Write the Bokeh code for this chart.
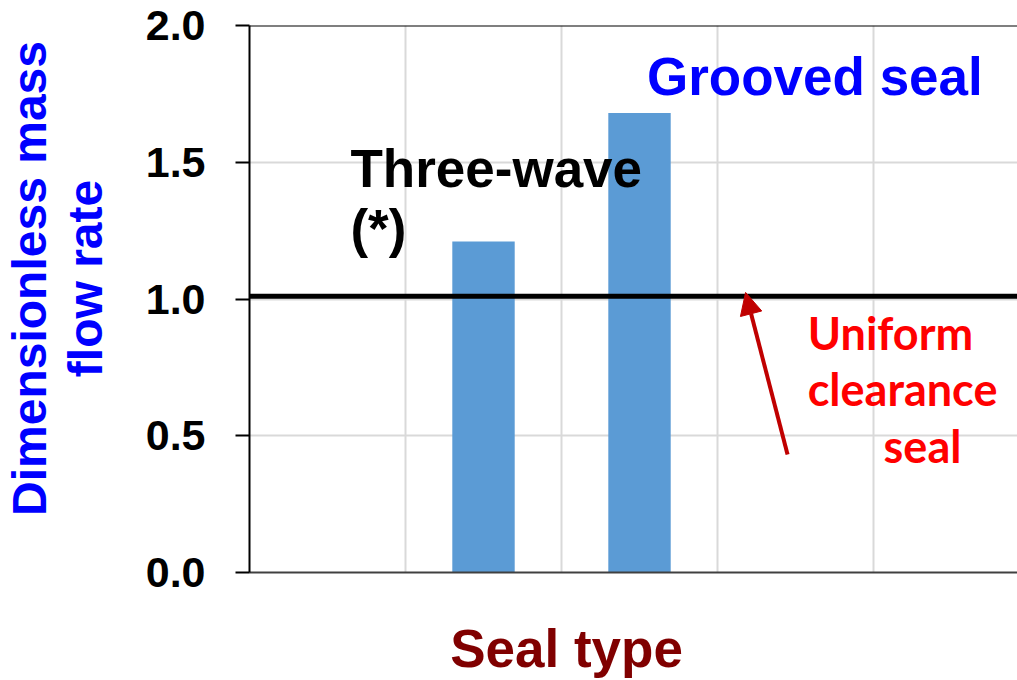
from bokeh.plotting import figure
from bokeh.models import (Range1d, FixedTicker, Span, Label, Arrow, NormalHead,
                          ColumnDataSource, NumeralTickFormatter, LinearAxis)
from bokeh.embed import file_html
from bokeh.resources import INLINE

# ---- data ----
slot_count = 5                      # category slots along the x axis
seal_slots = [1, 2]                 # slot index of each bar
seal_names = ["Three-wave\n(*)", "Grooved seal"]
flow_values = [1.21, 1.68]          # dimensionless mass flow rate
uniform_value = 1.01                # uniform clearance seal reference
y_ticks = [0.0, 0.5, 1.0, 1.5, 2.0]
y_max = 2.0
x_title = "Seal type"
y_title = ["Dimensionless mass", "flow rate"]

ARIAL = "Liberation Sans"
CALIBRI = "Lato"

# label anchor positions (layout, in axis units)
X_TITLE_POS = 2.032
Y_TITLE_POS = 1.075

p = figure(width=1017, height=680, output_backend="svg", toolbar_location=None,
           x_range=Range1d(0, 4.923), y_range=Range1d(0, y_max),
           min_border_left=249, min_border_top=25, min_border_bottom=108,
           min_border_right=0)
p.outline_line_color = None
p.background_fill_color = "white"
p.border_fill_color = "white"

src = ColumnDataSource(dict(x=[s + 0.5 for s in seal_slots], top=flow_values))
p.vbar(x="x", top="top", width=0.40, source=src, fill_color="#5b9bd5",
       line_color=None)

# x axis: a single label "Seal type" placed under the chart
p.xaxis.ticker = FixedTicker(ticks=[X_TITLE_POS])
p.xaxis.major_label_overrides = {X_TITLE_POS: x_title}
p.xaxis.major_tick_out = 0
p.xaxis.major_tick_in = 0
p.xaxis.minor_tick_line_color = None
p.xaxis.axis_line_color = "#404040"
p.xaxis.axis_line_width = 2
p.xaxis.major_label_text_font = ARIAL
p.xaxis.major_label_text_font_style = "bold"
p.xaxis.major_label_text_font_size = "53px"
p.xaxis.major_label_text_color = "#800000"
p.xaxis.major_label_standoff = 46

p.xgrid.ticker = FixedTicker(ticks=list(range(slot_count + 1)))
p.xgrid.grid_line_color = "#d9d9d9"
p.xgrid.grid_line_width = 2

p.yaxis.ticker = FixedTicker(ticks=y_ticks)
p.yaxis.formatter = NumeralTickFormatter(format="0.0")
p.yaxis.major_tick_out = 14
p.yaxis.major_tick_in = 0
p.yaxis.minor_tick_line_color = None
p.yaxis.axis_line_color = "black"
p.yaxis.axis_line_width = 2
p.yaxis.major_tick_line_width = 2
p.yaxis.major_tick_line_color = "black"
p.yaxis.major_label_text_font = ARIAL
p.yaxis.major_label_text_font_style = "bold"
p.yaxis.major_label_text_font_size = "43px"
p.yaxis.major_label_text_color = "black"
p.yaxis.major_label_standoff = 30

p.ygrid.grid_line_color = "#d9d9d9"
p.ygrid.grid_line_width = 2

# y axis title: two extra label-only axes (second line nearest the axis)
for line, standoff in [(y_title[1], 30), (y_title[0], 0)]:
    ax = LinearAxis(ticker=FixedTicker(ticks=[Y_TITLE_POS]),
                    major_label_overrides={Y_TITLE_POS: line},
                    major_label_orientation="vertical",
                    major_label_standoff=standoff,
                    major_tick_out=0, major_tick_in=0,
                    major_tick_line_color=None, minor_tick_line_color=None,
                    axis_line_color=None,
                    major_label_text_font=ARIAL,
                    major_label_text_font_style="bold",
                    major_label_text_font_size="48px",
                    major_label_text_color="#0000ff")
    p.add_layout(ax, "left")

# top border line
p.add_layout(Span(location=y_max, dimension="width", line_color="black",
                  line_width=2))
# uniform clearance reference
p.add_layout(Span(location=uniform_value, dimension="width",
                  line_color="black", line_width=5))

# bar annotations
tw1, tw2 = seal_names[0].split("\n")
p.add_layout(Label(x=0.647, y=1.478, text=tw1, text_align="left",
                   text_baseline="alphabetic", text_font=ARIAL,
                   text_font_style="bold", text_font_size="53px",
                   text_color="black"))
p.add_layout(Label(x=0.647, y=1.258, text=tw2, text_align="left",
                   text_baseline="alphabetic", text_font=ARIAL,
                   text_font_style="bold", text_font_size="53px",
                   text_color="black"))
p.add_layout(Label(x=2.548, y=1.814, text=seal_names[1], text_align="left",
                   text_baseline="alphabetic", text_font=ARIAL,
                   text_font_style="bold", text_font_size="53px",
                   text_color="#0000ff"))

# uniform clearance annotation
for txt, cx, by in [("Uniform", 4.109, 0.876), ("clearance", 4.186, 0.672),
                    ("seal", 4.314, 0.463)]:
    p.add_layout(Label(x=cx, y=by, text=txt, text_align="center",
                       text_baseline="alphabetic", text_font=CALIBRI,
                       text_font_style="bold", text_font_size="45px",
                       text_color="#ff0000"))

p.add_layout(Arrow(x_start=3.449, y_start=0.431, x_end=3.18, y_end=1.024,
                   line_color="#c00000", line_width=4,
                   end=NormalHead(size=22, fill_color="#c00000",
                                  line_color="#c00000")))

open("out.html", "w").write(file_html(p, INLINE))
